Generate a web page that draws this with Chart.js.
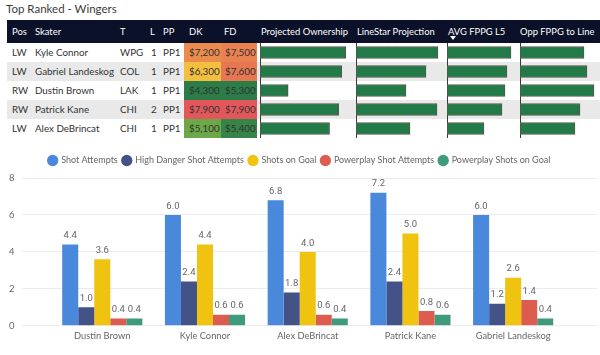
<!DOCTYPE html>
<html>
<head>
<meta charset="utf-8">
<script src="https://cdn.jsdelivr.net/npm/chart.js@4.4.1/dist/chart.umd.min.js"></script>
<style>
  html, body { margin: 0; padding: 0; background: #ffffff; }
  body { width: 600px; height: 355px; position: relative; overflow: hidden; font-family: Lato, "Noto Sans", sans-serif; }
  .abs { position: absolute; white-space: nowrap; }
  #title { left: 6px; top: 1px; font-size: 11.5px; color: #3b3b3b; line-height: 16px; }
  #header { left: 7px; top: 20px; width: 593px; height: 23px; background: #0b1128; }
  .hcell { color: #ffffff; font-size: 9.4px; line-height: 23px; top: 20px; }
  .row { left: 7px; width: 593px; height: 19px; }
  .cell { font-size: 9.8px; line-height: 19px; color: #333333; }
  .money { height: 19px; }
  #sortArrow { left: 450px; top: 36px; width: 0; height: 0; border-left: 3px solid transparent; border-right: 3px solid transparent; border-top: 4px solid #ffffff; }
  canvas { position: absolute; }
</style>
</head>
<body>
<div id="title" class="abs">Top Ranked - Wingers</div>
<div id="header" class="abs"></div>
<div id="sortArrow" class="abs"></div>
<canvas id="barsChart" width="600" height="204" style="left:0;top:151px;"></canvas>

<script>
// ---------------- Table data ----------------
const tableHeaders = ['Pos', 'Skater', 'T', 'L', 'PP', 'DK', 'FD',
  'Projected Ownership', 'LineStar Projection', 'AVG FPPG L5', 'Opp FPPG to Line'];
const positions = ['LW', 'LW', 'RW', 'RW', 'LW'];
const skaters = ['Kyle Connor', 'Gabriel Landeskog', 'Dustin Brown', 'Patrick Kane', 'Alex DeBrincat'];
const teams = ['WPG', 'COL', 'LAK', 'CHI', 'CHI'];
const lineNumbers = [1, 1, 1, 2, 1];
const ppUnits = ['PP1', 'PP1', 'PP1', 'PP1', 'PP1'];
const dkSalary = [7200, 6300, 4300, 7900, 5100];
const fdSalary = [7500, 7600, 5300, 7900, 5400];
const projectedOwnership = [25.3, 24.1, 8.3, 23.2, 20.5];
const linestarProjection = [16.4, 14.0, 10.0, 16.2, 10.8];
const avgFppgL5 = [12.8, 12.0, 11.6, 11.0, 7.4];
const oppFppgToLine = [12.8, 13.4, 14.8, 12.0, 11.0];

// ---------------- Chart data ----------------
const players = ['Dustin Brown', 'Kyle Connor', 'Alex DeBrincat', 'Patrick Kane', 'Gabriel Landeskog'];
const seriesNames = ['Shot Attempts', 'High Danger Shot Attempts', 'Shots on Goal', 'Powerplay Shot Attempts', 'Powerplay Shots on Goal'];
const shotAttempts = [4.4, 6.0, 6.8, 7.2, 6.0];
const highDangerShotAttempts = [1.0, 2.4, 1.8, 2.4, 1.2];
const shotsOnGoal = [3.6, 4.4, 4.0, 5.0, 2.6];
const powerplayShotAttempts = [0.4, 0.6, 0.6, 0.8, 1.4];
const powerplayShotsOnGoal = [0.4, 0.6, 0.4, 0.6, 0.4];
const yTicks = [0, 2, 4, 6, 8];

// ---------------- Layout / style ----------------
const headerX = [12, 35, 120, 150, 163, 189, 224, 261, 357, 448, 520];
const cellX = [12, 35, 120, 151, 163, 189, 225];
const rowTop = 43, rowH = 19;
const dkCell = { left: 184, width: 37 };
const fdCell = { left: 221, width: 36 };
const seriesColors = ['#4a88dc', '#435388', '#efc30f', '#dc5d50', '#3f9a7b'];
const uiFont = 'Lato, "Noto Sans", sans-serif';
const dataBarCols = [
  { values: projectedOwnership, left: 260, width: 95, max: 28.0 },
  { values: linestarProjection, left: 356, width: 90, max: 18.0 },
  { values: avgFppgL5, left: 447, width: 72, max: 14.4 },
  { values: oppFppgToLine, left: 520, width: 80, max: 16.0 }
];

function mix(a, b, t) {
  const pa = [1, 3, 5].map(i => parseInt(a.substr(i, 2), 16));
  const pb = [1, 3, 5].map(i => parseInt(b.substr(i, 2), 16));
  return 'rgb(' + pa.map((v, i) => Math.round(v + (pb[i] - v) * t)).join(',') + ')';
}
function salaryColor(v, arr) {
  const lo = Math.min(...arr), hi = Math.max(...arr), mid = (lo + hi) / 2;
  const green = '#2b7c47', lightGreen = '#74ad48', yellow = '#f5c440', red = '#e2585a';
  if (v <= mid) {
    const t = (v - lo) / (mid - lo);
    return t < 0.5 ? mix(green, lightGreen, t / 0.5) : mix(lightGreen, yellow, (t - 0.5) / 0.5);
  }
  return mix(yellow, red, Math.pow((v - mid) / (hi - mid), 1.3));
}
function money(v) { return '$' + v.toLocaleString('en-US'); }

const body = document.body;
function addDiv(cls, text, style) {
  const d = document.createElement('div');
  d.className = 'abs ' + cls;
  if (text !== null) d.textContent = text;
  Object.assign(d.style, style);
  body.appendChild(d);
  return d;
}

// rows background
skaters.forEach((s, i) => {
  addDiv('row', null, { top: (rowTop + i * rowH) + 'px', background: i % 2 === 1 ? '#e9e9e9' : '#ffffff' });
  addDiv('money', null, { left: dkCell.left + 'px', width: dkCell.width + 'px', top: (rowTop + i * rowH) + 'px', background: salaryColor(dkSalary[i], dkSalary) });
  addDiv('money', null, { left: fdCell.left + 'px', width: fdCell.width + 'px', top: (rowTop + i * rowH) + 'px', background: salaryColor(fdSalary[i], fdSalary) });
  const vals = [positions[i], skaters[i], teams[i], String(lineNumbers[i]), ppUnits[i], money(dkSalary[i]), money(fdSalary[i])];
  vals.forEach((t, c) => addDiv('cell', t, { left: cellX[c] + 'px', top: (rowTop + i * rowH) + 'px' }));
});
// header labels
tableHeaders.forEach((h, c) => addDiv('hcell', h, { left: headerX[c] + 'px' }));
body.appendChild(document.getElementById('sortArrow'));

// data bars in table (one small horizontal bar chart per column)
dataBarCols.forEach((col, k) => {
  const cv = document.createElement('canvas');
  cv.width = col.width; cv.height = rowH * skaters.length;
  cv.style.left = col.left + 'px'; cv.style.top = rowTop + 'px';
  body.appendChild(cv);
  new Chart(cv, {
    type: 'bar',
    data: { labels: skaters, datasets: [{ data: col.values, backgroundColor: '#217a48', borderColor: '#5d5548', borderWidth: 1, borderSkipped: false, barThickness: 12 }] },
    options: {
      indexAxis: 'y', responsive: false, animation: false, devicePixelRatio: 1,
      layout: { padding: 0 },
      plugins: { legend: { display: false }, tooltip: { enabled: false } },
      scales: {
        x: { display: false, min: 0, max: col.max },
        y: { display: true, ticks: { display: false }, grid: { display: false, drawTicks: false }, border: { display: true, color: '#3a3a3a', width: 1 } }
      }
    }
  });
});

// ---------------- Grouped bar chart ----------------
const seriesValues = [shotAttempts, highDangerShotAttempts, shotsOnGoal, powerplayShotAttempts, powerplayShotsOnGoal];

const valueLabels = {
  id: 'valueLabels',
  afterDatasetsDraw(chart) {
    const ctx = chart.ctx;
    ctx.save();
    ctx.font = '9.5px Roboto, "Noto Sans", sans-serif';
    ctx.fillStyle = '#666666';
    ctx.textAlign = 'center';
    ctx.textBaseline = 'bottom';
    chart.data.datasets.forEach((ds, i) => {
      const meta = chart.getDatasetMeta(i);
      meta.data.forEach((bar, j) => {
        ctx.fillText(ds.data[j].y.toFixed(1), bar.x, bar.y - 4);
      });
    });
    ctx.restore();
  }
};

const legendGap = {
  id: 'legendGap',
  beforeInit(chart) {
    const lg = chart.legend;
    if (!lg) return;
    const orig = lg.fit;
    lg.fit = function () { orig.call(this); this.height += 3; };
  }
};

new Chart(document.getElementById('barsChart'), {
  type: 'bar',
  data: {
    datasets: seriesNames.map((name, s) => ({
      label: name,
      data: players.map((p, i) => ({ x: i, y: seriesValues[s][i] })),
      backgroundColor: seriesColors[s],
      borderWidth: 0,
      categoryPercentage: 0.78,
      barPercentage: 1.0
    }))
  },
  options: {
    responsive: false, animation: false, devicePixelRatio: 1,
    layout: { padding: { left: 2, right: 3, top: 0, bottom: 8 } },
    plugins: {
      legend: {
        position: 'top', align: 'center',
        labels: { usePointStyle: true, pointStyle: 'circle', boxWidth: 8, boxHeight: 8, padding: 5, color: '#666666', font: { family: uiFont, size: 9 } }
      },
      tooltip: { enabled: false }
    },
    scales: {
      x: {
        type: 'linear', min: -0.786, max: 4.816, offset: false,
        grid: { display: false, drawTicks: false, offset: false }, border: { display: false },
        afterBuildTicks: (scale) => { scale.ticks = players.map((p, i) => ({ value: i })); },
        ticks: { autoSkip: false, maxRotation: 0, padding: 5, color: '#666666', font: { family: uiFont, size: 9.3 }, callback: (v) => players[v] }
      },
      y: {
        min: yTicks[0], max: yTicks[yTicks.length - 1],
        afterBuildTicks: (scale) => { scale.ticks = yTicks.map(v => ({ value: v })); },
        grid: { color: '#ececec', drawTicks: false }, border: { display: false },
        ticks: { padding: 7, color: '#666666', font: { family: uiFont, size: 9.5 } }
      }
    }
  },
  plugins: [valueLabels, legendGap]
});
</script>
</body>
</html>
